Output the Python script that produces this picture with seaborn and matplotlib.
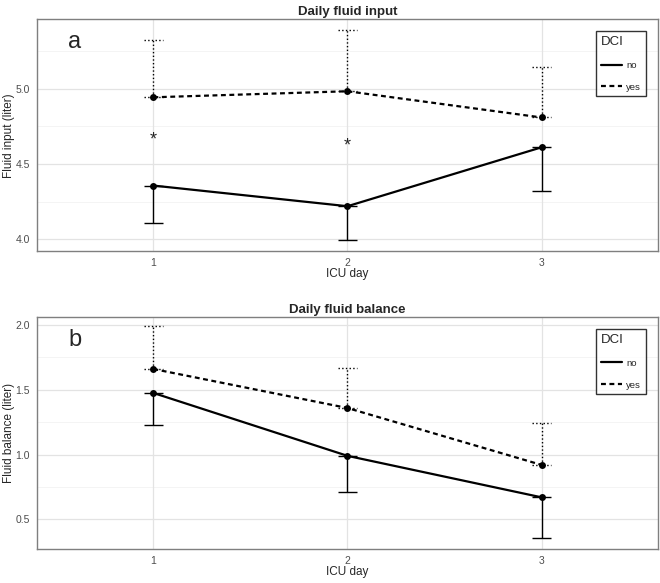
import pandas as pd
import seaborn as sns
import matplotlib.pyplot as plt
import matplotlib.transforms as mtransforms
from matplotlib.lines import Line2D

# values (liters)
days = [1, 2, 3]
input_no = [4.356, 4.219, 4.61]
input_no_sd = [0.25, 0.224, 0.29]
input_yes = [4.942, 4.982, 4.808]
input_yes_sd = [0.383, 0.408, 0.335]
star_days = [1, 2]
star_y = [4.67, 4.63]

balance_no = [1.475, 0.99, 0.67]
balance_no_sd = [0.25, 0.275, 0.315]
balance_yes = [1.66, 1.359, 0.92]
balance_yes_sd = [0.33, 0.306, 0.32]

sns.set_style("white")
plt.rcParams['font.family'] = ['Liberation Sans', 'DejaVu Sans']

DASH = (2.2, 1.6)


def long_df(no_vals, yes_vals):
    return pd.DataFrame({
        'day': days + days,
        'value': no_vals + yes_vals,
        'DCI': ['no'] * 3 + ['yes'] * 3,
    })


def panel(ax, no_vals, no_sd, yes_vals, yes_sd, title, ylabel, letter, ylim, yticks):
    df = long_df(no_vals, yes_vals)
    # grid like ggplot theme_bw
    for v in yticks:
        ax.axhline(v, color='#e3e3e3', lw=0.9, zorder=0)
    for i in range(len(yticks) - 1):
        ax.axhline((yticks[i] + yticks[i + 1]) / 2, color='#f2f2f2', lw=0.6, zorder=0)
    ax.axhline(yticks[-1] + (yticks[1] - yticks[0]) / 2, color='#f2f2f2', lw=0.6, zorder=0)
    for d in days:
        ax.axvline(d, color='#e3e3e3', lw=0.9, zorder=0)

    # error bars: "no" one-sided down (solid), "yes" one-sided up (dotted)
    hw = 0.05
    for d, m, s in zip(days, no_vals, no_sd):
        ax.vlines(d, m - s, m, color='black', lw=1.0, zorder=2)
        ax.hlines([m - s, m], d - hw, d + hw, color='black', lw=1.0, zorder=2)
    for d, m, s in zip(days, yes_vals, yes_sd):
        ax.vlines(d, m, m + s, color='black', lw=1.0, linestyles=':', zorder=2)
        ax.hlines([m, m + s], d - hw, d + hw, color='black', lw=1.0, linestyles=':', zorder=2)

    sns.lineplot(data=df, x='day', y='value', style='DCI', color='black',
                 dashes={'no': '', 'yes': DASH}, markers={'no': 'o', 'yes': 'o'},
                 markersize=5, markeredgewidth=0, linewidth=1.6, legend=False, ax=ax, zorder=3)

    ax.set_xlim(0.4, 3.6)
    ax.set_ylim(*ylim)
    ax.set_xticks(days)
    ax.set_yticks(yticks)
    ax.set_yticklabels([f'{v:.1f}' for v in yticks])
    ax.tick_params(axis='both', labelsize=7.5, colors='#4d4d4d', length=3, width=0.8,
                   direction='out', pad=2)
    ax.set_title(title, fontsize=9.5, fontweight='bold', pad=3)
    ax.set_xlabel('ICU day', fontsize=8.5, labelpad=0)
    ax.set_ylabel(ylabel, fontsize=8.5)
    ax.yaxis.set_label_coords(-0.036, 0.5)
    for sp in ax.spines.values():
        sp.set_color('#7f7f7f')
        sp.set_linewidth(1.0)
    ax.text(0.05, 0.9, letter, transform=ax.transAxes, fontsize=17, va='center', ha='left')

    handles = [Line2D([], [], color='black', lw=1.6, ls='-'),
               Line2D([], [], color='black', lw=1.6, ls=(0, DASH))]
    leg = ax.legend(handles, ['no', 'yes'], title='DCI', loc='upper right',
                    bbox_to_anchor=(0.988, 0.968), fontsize=6.8, title_fontsize=9.5,
                    frameon=True, fancybox=False, edgecolor='black', handlelength=2.2,
                    handletextpad=0.5, labelspacing=1.35, borderpad=0.5)
    leg._legend_box.align = 'left'
    leg.get_frame().set_linewidth(1.0)


fig = plt.figure(figsize=(6.6, 5.83), dpi=100)
ax1 = fig.add_axes([0.056, 0.569, 0.941, 0.398])
ax2 = fig.add_axes([0.056, 0.058, 0.941, 0.398])

panel(ax1, input_no, input_no_sd, input_yes, input_yes_sd, 'Daily fluid input',
      'Fluid input (liter)', 'a', (3.92, 5.46), [4.0, 4.5, 5.0])
star_tr = mtransforms.offset_copy(ax1.transData, fig=fig, y=-1.5, units='points')
for d, y in zip(star_days, star_y):
    ax1.text(d, y, '*', ha='center', va='center', fontsize=13, transform=star_tr)

panel(ax2, balance_no, balance_no_sd, balance_yes, balance_yes_sd, 'Daily fluid balance',
      'Fluid balance (liter)', 'b', (0.27, 2.06), [0.5, 1.0, 1.5, 2.0])

fig.savefig('out.png', dpi=100)
